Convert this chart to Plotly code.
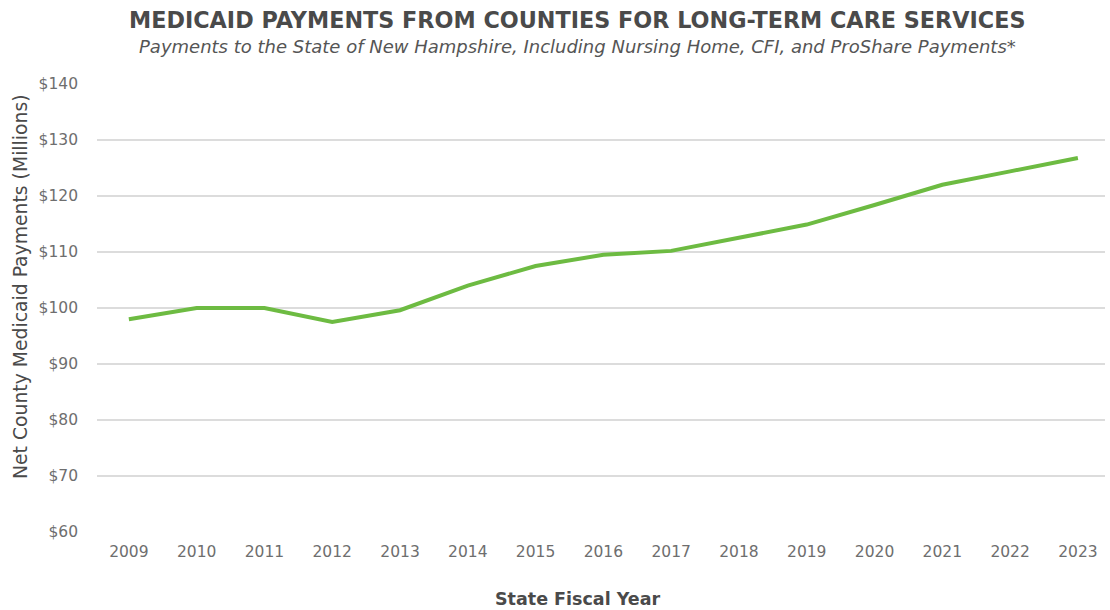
import plotly.graph_objects as go

# State fiscal years and net county Medicaid payments ($ millions)
years = [2009, 2010, 2011, 2012, 2013, 2014, 2015, 2016, 2017, 2018, 2019, 2020, 2021, 2022, 2023]
payments = [98.0, 100.0, 100.0, 97.5, 99.6, 104.0, 107.5, 109.5, 110.2, 112.6, 114.9, 118.4, 122.0, 124.4, 126.8]

y_ticks = [60, 70, 80, 90, 100, 110, 120, 130, 140]
y_tick_text = ["$" + str(v) for v in y_ticks]

title_text = "MEDICAID PAYMENTS FROM COUNTIES FOR LONG-TERM CARE SERVICES"
subtitle_text = "Payments to the State of New Hampshire, Including Nursing Home, CFI, and ProShare Payments*"
x_title = "State Fiscal Year"
y_title = "Net County Medicaid Payments (Millions)"

GREEN = "#6dbb42"
GRID = "#dcdcdc"
FONT = "DejaVu Sans, Open Sans, sans-serif"

W, H = 1110, 610
L, R, T, B = 97, 5, 84, 78
plot_w = W - L - R
plot_h = H - T - B


def px_to_paper_x(px):
    return (px - L) / plot_w


def px_to_paper_y(py):
    return (H - B - py) / plot_h


fig = go.Figure()
fig.add_trace(go.Scatter(
    x=years, y=payments, mode="lines",
    line=dict(color=GREEN, width=4),
    hoverinfo="x+y", showlegend=False,
))

fig.update_layout(
    width=W, height=H,
    margin=dict(l=L, r=R, t=T, b=B),
    paper_bgcolor="white", plot_bgcolor="white",
    font=dict(family=FONT, color="#4d4d4d"),
    xaxis=dict(
        range=[2008.53, 2023.4],
        tickmode="array", tickvals=years, ticktext=[str(y) for y in years],
        showgrid=False, zeroline=False, showline=False,
        ticks="", tickfont=dict(family=FONT, size=15.5, color="#6e6e6e"),
        ticklabelstandoff=8,
    ),
    yaxis=dict(
        range=[60, 140],
        tickmode="array", tickvals=y_ticks, ticktext=y_tick_text,
        showgrid=True, gridcolor=GRID, gridwidth=1.5,
        zeroline=False, showline=False, ticks="",
        tickfont=dict(family=FONT, size=15.5, color="#6e6e6e"),
        ticklabelstandoff=18,
    ),
    annotations=[
        dict(text="<b>" + title_text + "</b>", xref="paper", yref="paper",
             x=px_to_paper_x(577), y=px_to_paper_y(20), xanchor="center", yanchor="middle",
             showarrow=False, font=dict(family=FONT, size=22.3, color="#4a4a4a")),
        dict(text="<i>" + subtitle_text + "</i>", xref="paper", yref="paper",
             x=px_to_paper_x(577), y=px_to_paper_y(47), xanchor="center", yanchor="middle",
             showarrow=False, font=dict(family=FONT, size=18, color="#555555", weight=300)),
        dict(text=x_title, xref="paper", yref="paper",
             x=px_to_paper_x(577), y=px_to_paper_y(599), xanchor="center", yanchor="middle",
             showarrow=False, font=dict(family=FONT, size=17.5, color="#4a4a4a", weight=600)),
        dict(text=y_title, xref="paper", yref="paper",
             x=px_to_paper_x(20), y=px_to_paper_y(287), xanchor="center", yanchor="middle",
             textangle=-90, showarrow=False,
             font=dict(family=FONT, size=18.8, color="#4a4a4a")),
    ],
)

fig.write_html("out.html")
